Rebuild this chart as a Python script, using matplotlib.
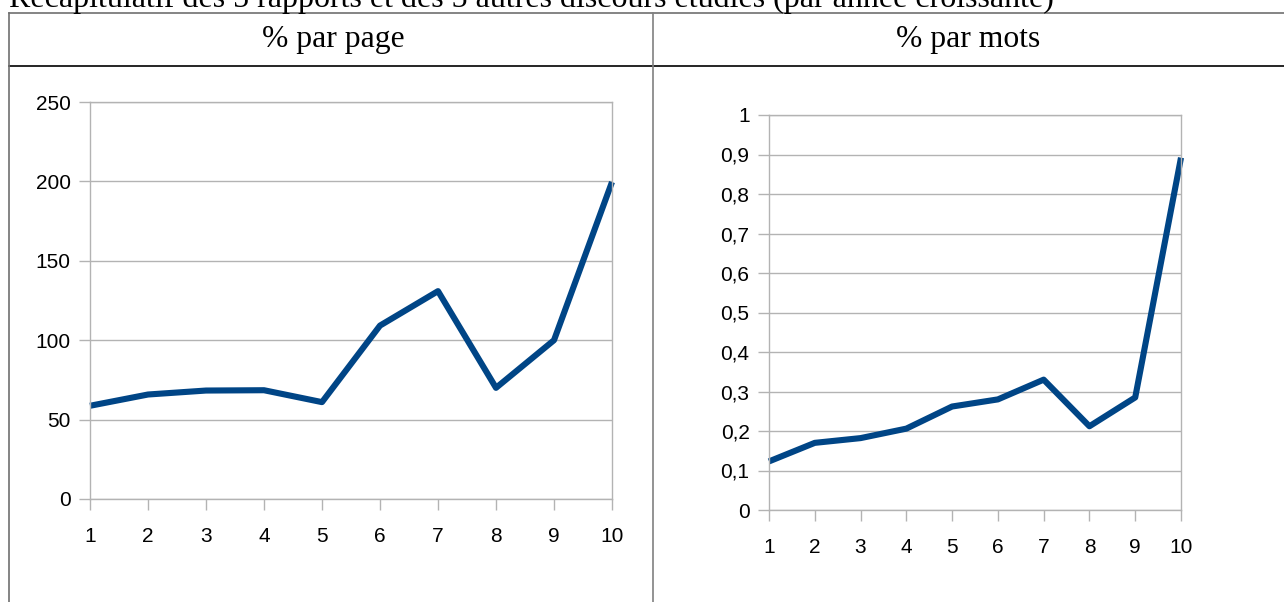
import numpy as np
import matplotlib.pyplot as plt
from matplotlib.lines import Line2D

# données
x = [1, 2, 3, 4, 5, 6, 7, 8, 9, 10]
par_page = [58.7, 65.8, 68.3, 68.5, 61, 109.2, 130.9, 70, 100, 199.6]
par_mots = [0.123, 0.170, 0.182, 0.206, 0.262, 0.280, 0.330, 0.212, 0.285, 0.892]

yticks_page = [0, 50, 100, 150, 200, 250]
yticks_mots = [0, 0.1, 0.2, 0.3, 0.4, 0.5, 0.6, 0.7, 0.8, 0.9, 1]
ylabels_mots = ["0", "0,1", "0,2", "0,3", "0,4", "0,5", "0,6", "0,7", "0,8", "0,9", "1"]

titre = "Récapitulatif des 5 rapports et des 5 autres discours étudiés (par année croissante)"
entetes = ["% par page", "% par mots"]

W, H = 1284, 602
fig = plt.figure(figsize=(W / 100, H / 100), dpi=100)
fig.patch.set_facecolor("white")

serif = ["Liberation Serif", "DejaVu Serif"]
sans = ["Liberation Sans", "DejaVu Sans"]

def fx(px):
    return px / W

def fy(py):
    return 1 - py / H

gris = "#b3b3b3"
bleu = "#004586"

def style_axe(ax):
    ax.set_xlim(1, 10)
    ax.set_xticks(x)
    ax.grid(axis="y", color=gris, linewidth=1)
    ax.set_axisbelow(True)
    for s in ax.spines.values():
        s.set_color(gris)
        s.set_linewidth(1)
    ax.tick_params(axis="both", color=gris, length=8, width=1, labelsize=15)
    ax.tick_params(axis="x", pad=12.5)
    ax.tick_params(axis="y", pad=6)
    for lab in ax.get_xticklabels() + ax.get_yticklabels():
        lab.set_family(sans)

# graphique de gauche
ax1 = fig.add_axes([fx(90), fy(499), fx(612 - 90), (499 - 102) / H])
ax1.plot(x, par_page, color=bleu, linewidth=4.4, solid_joinstyle="round",
         solid_capstyle="butt", clip_on=False)
ax1.set_ylim(0, 250)
ax1.set_yticks(yticks_page)
style_axe(ax1)

# graphique de droite
ax2 = fig.add_axes([fx(769), fy(510), fx(1181 - 769), (510 - 115) / H])
ax2.plot(x, par_mots, color=bleu, linewidth=4.4, solid_joinstyle="round",
         solid_capstyle="butt", clip_on=False)
ax2.set_ylim(0, 1)
ax2.set_yticks(yticks_mots)
ax2.set_yticklabels(ylabels_mots)
style_axe(ax2)

# tableau
traits = [
    ([fx(9), 1], [fy(12.5), fy(12.5)], "#707070"),
    ([fx(9), 1], [fy(65.5), fy(65.5)], "black"),
    ([fx(9), fx(9)], [0, fy(12.5)], "#707070"),
    ([fx(652.5), fx(652.5)], [0, fy(12.5)], "#808080"),
]
for xs, ys, c in traits:
    fig.add_artist(Line2D(xs, ys, color=c, linewidth=1.2))

fig.text(fx(333), fy(40), entetes[0], ha="center", va="center", fontsize=22.8, family=serif)
fig.text(fx(968), fy(40), entetes[1], ha="center", va="center", fontsize=22.8, family=serif)
fig.text(fx(9), fy(7.5), titre, ha="left", va="baseline", fontsize=23, family=serif)

fig.savefig("out.png", dpi=100)
